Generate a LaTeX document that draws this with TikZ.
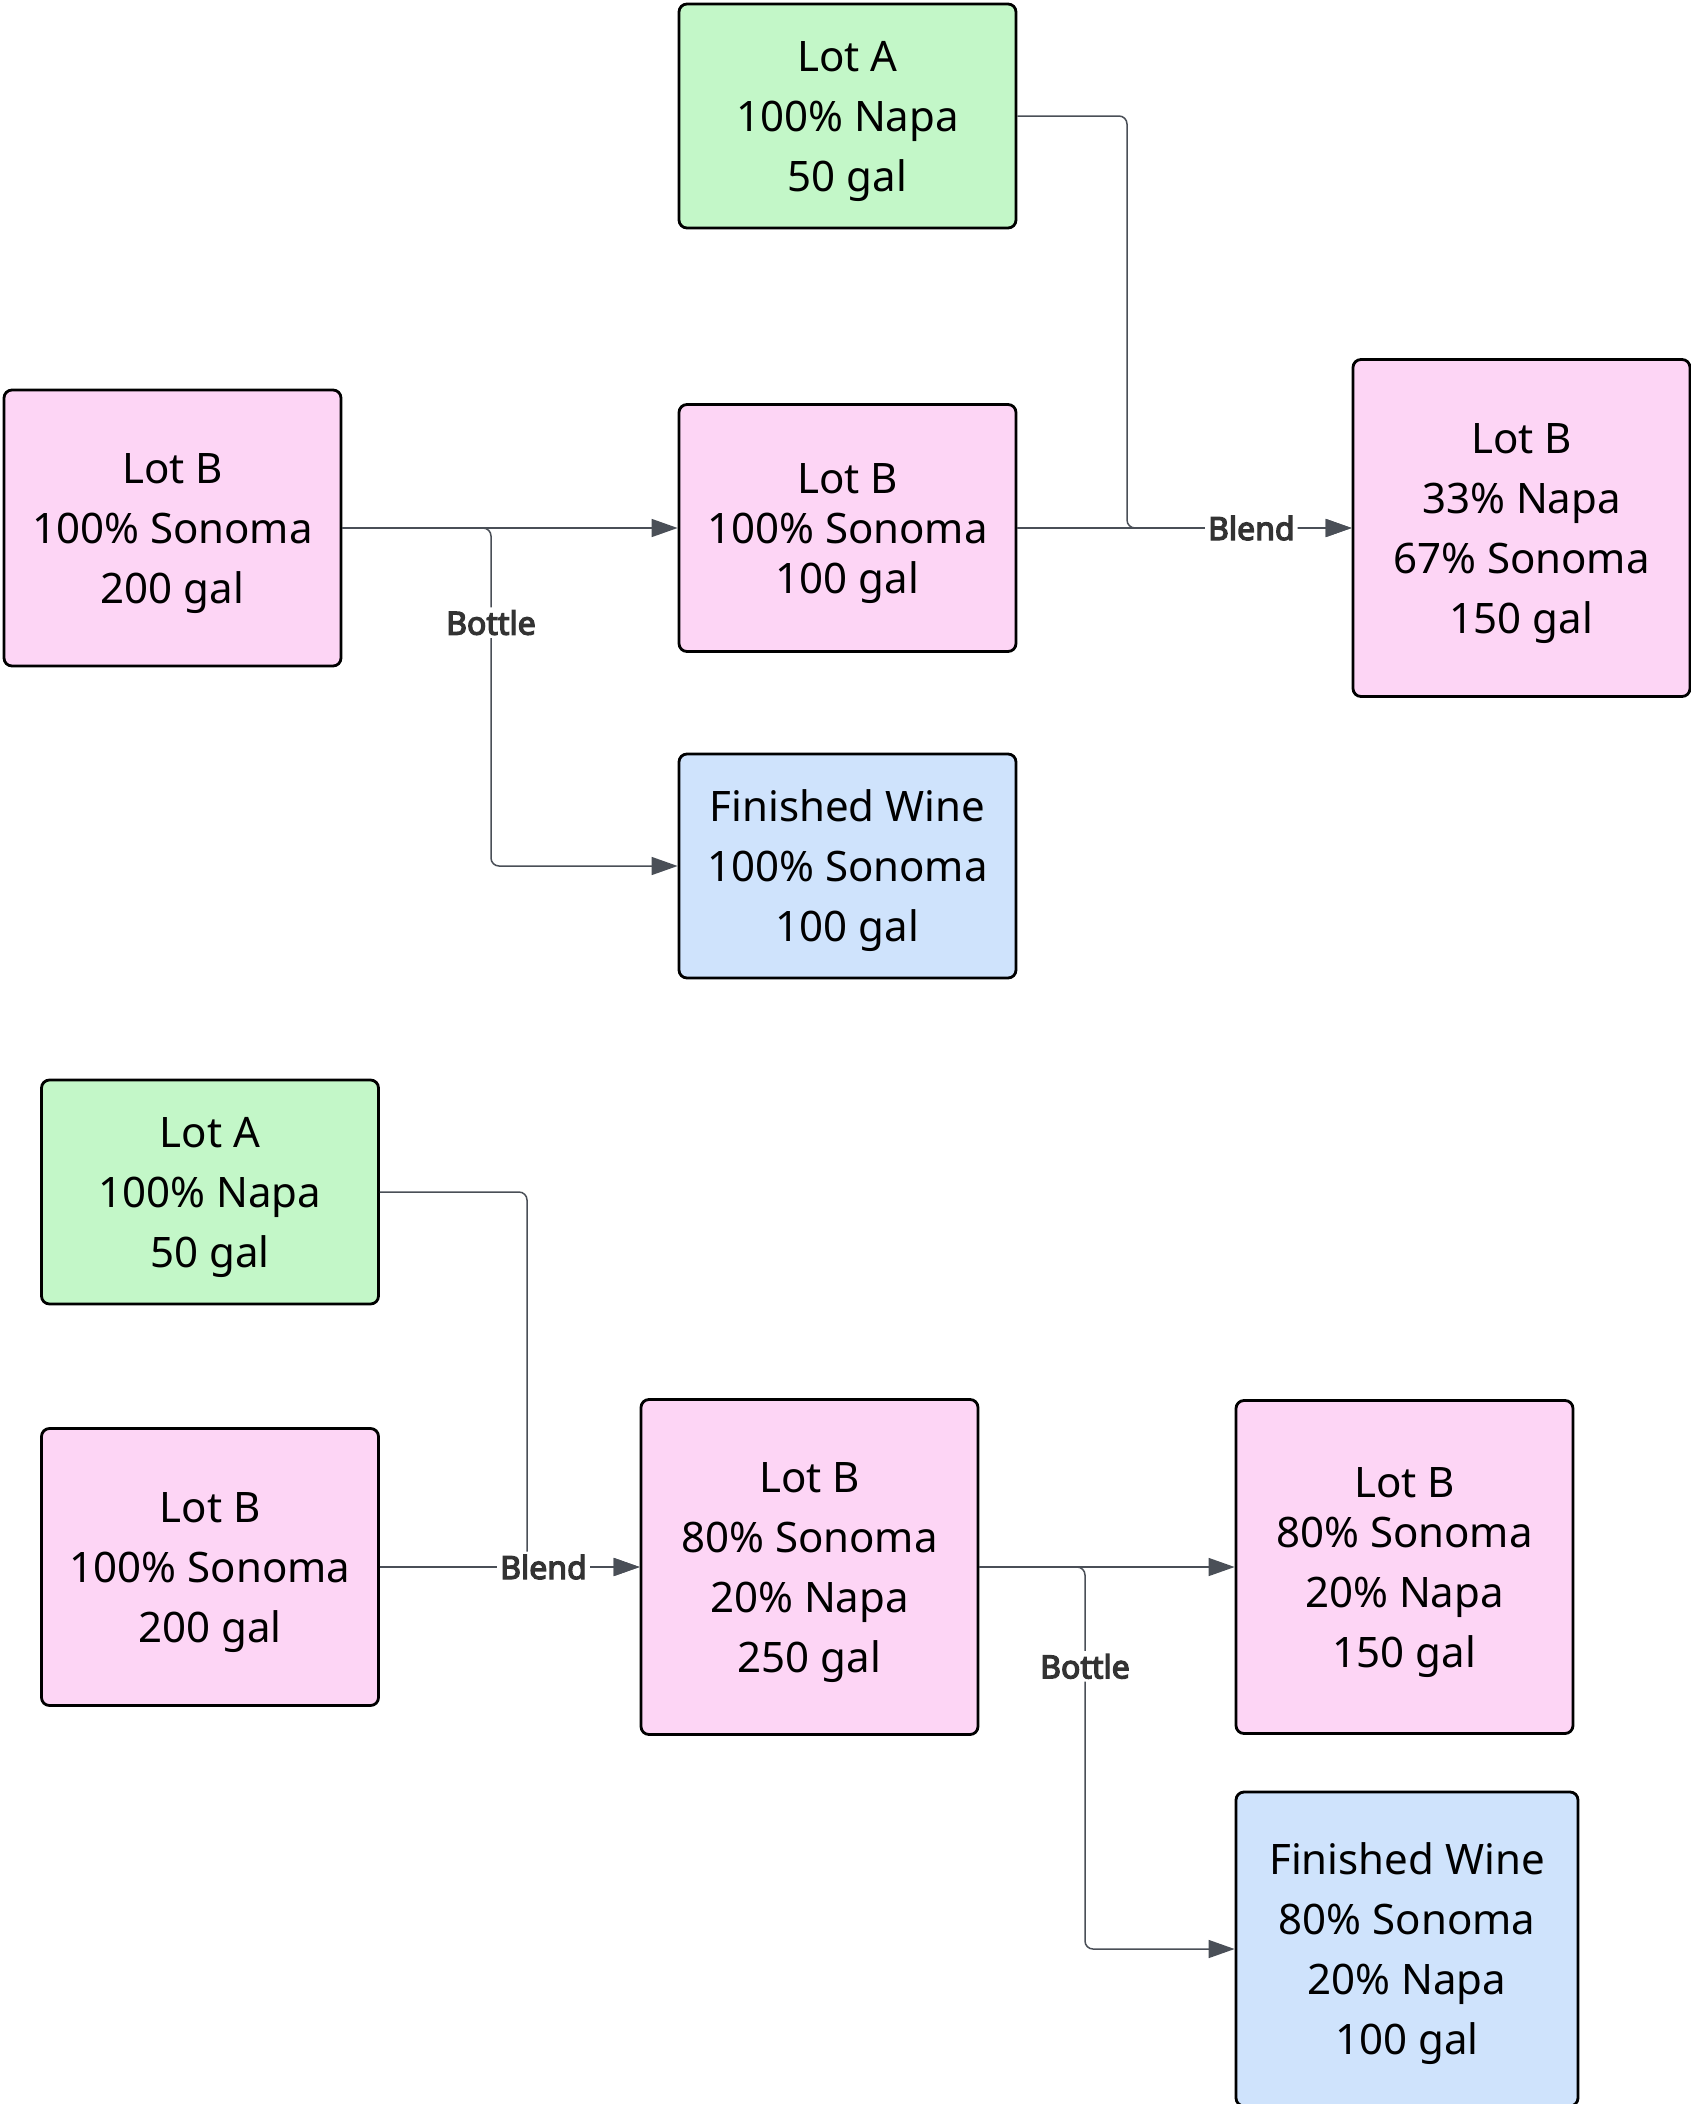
\documentclass[tikz,border=0pt]{standalone}
\usepackage{fontspec}
\setmainfont{Noto Sans}
\newfontfamily\lblfont{Noto Sans}[FakeBold=4]
\usetikzlibrary{arrows.meta}
\definecolor{lotgreen}{HTML}{C3F7C8}
\definecolor{lotpink}{HTML}{FDD5F5}
\definecolor{wineblue}{HTML}{CFE3FC}
\definecolor{linkgray}{HTML}{4A4F57}
\definecolor{lbltext}{HTML}{333333}

\begin{document}
\begin{tikzpicture}[x=0.5pt, y=-0.5pt, %one unit is one pixel of the reference
  lot/.style={draw, line width=1.4pt, rounded corners=4pt, minimum width=168.5pt, inner sep=0pt, align=center, text depth=-0.5pt, font=\fontsize{21}{30}\selectfont},
  link/.style={draw=linkgray, line width=0.75pt, rounded corners=4pt, -{Triangle[length=13pt, width=9pt]}},
  lbl/.style={fill=white, text=lbltext, inner sep=1.5pt, font=\lblfont\fontsize{16}{18}\selectfont}]
\useasboundingbox (0,0) rectangle (1691,2104);

% first blend
\node[lot, fill=lotgreen, minimum height=112pt]  (a) at (847.5, 116) {Lot A\\100\% Napa\\50 gal};
\node[lot, fill=lotpink, minimum height=138pt]   (b) at (172.5, 528) {Lot B\\100\% Sonoma\\200 gal};
\node[lot, fill=lotpink, minimum height=123.5pt] (c) at (847.5, 528) {Lot B\\[-5pt]100\% Sonoma\\[-5pt]100 gal};
\node[lot, fill=lotpink, minimum height=168.5pt] (d) at (1521.5, 528) {Lot B\\33\% Napa\\67\% Sonoma\\150 gal};
\node[lot, fill=wineblue, minimum height=112pt]  (e) at (847.5, 866) {Finished Wine\\100\% Sonoma\\100 gal};
\coordinate (bc) at (491, 528);
\coordinate (ad) at (1127, 528);

\draw[link] (b.east) -- (c.west);
\draw[link] (b.east) -- (bc) |- node[lbl, pos=0.14] {Bottle} (e.west);
\draw[link] (a.east) -| (ad) -- (d.west);
\draw[link] (c.east) -- node[lbl, pos=0.7] {Blend} (d.west);

% second blend
\node[lot, fill=lotgreen, minimum height=112pt]  (f) at (210, 1192) {Lot A\\100\% Napa\\50 gal};
\node[lot, fill=lotpink, minimum height=138.5pt] (g) at (210, 1567) {Lot B\\100\% Sonoma\\200 gal};
\node[lot, fill=lotpink, minimum height=167.5pt] (h) at (809.5, 1567) {Lot B\\80\% Sonoma\\20\% Napa\\250 gal};
\node[lot, fill=lotpink, minimum height=166.5pt] (i) at (1404.5, 1567) {Lot B\\[-5pt]80\% Sonoma\\20\% Napa\\150 gal};
\node[lot, fill=wineblue, minimum width=171pt, minimum height=157pt] (j) at (1407, 1949) {Finished Wine\\80\% Sonoma\\20\% Napa\\100 gal};
\coordinate (fh) at (527, 1567);
\coordinate (hj) at (1085, 1567);

\draw[link] (f.east) -| (fh) -- (h.west);
\draw[link] (g.east) -- node[lbl, pos=0.63] {Blend} (h.west);
\draw[link] (h.east) -- (i.west);
\draw[link] (h.east) -- (hj) |- node[lbl, pos=0.13] {Bottle} (j.west);
\end{tikzpicture}
\end{document}
